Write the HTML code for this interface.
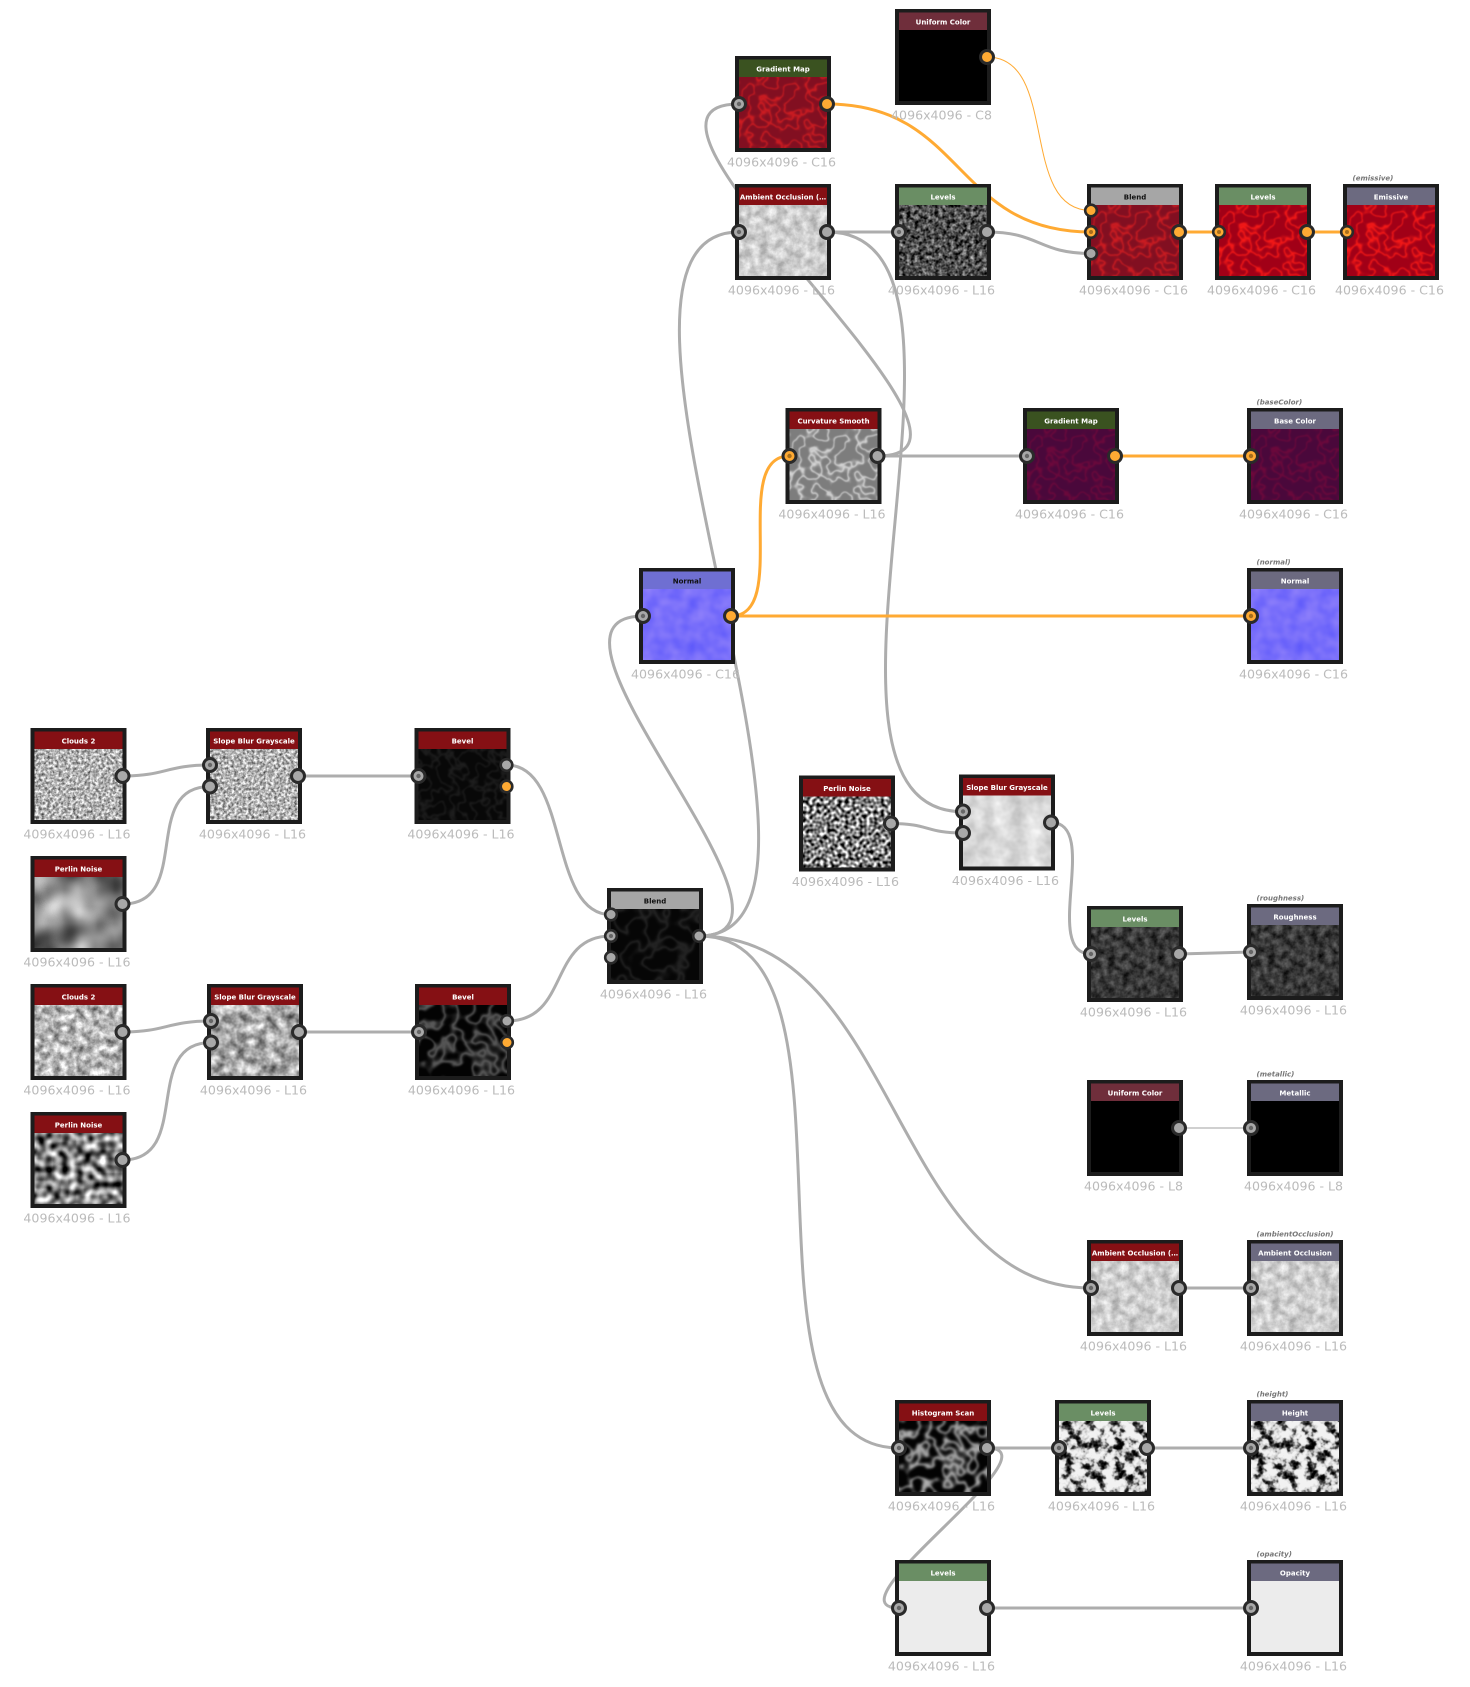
<!DOCTYPE html>
<html><head><meta charset="utf-8"><title>Node graph</title>
<style>
html,body{margin:0;padding:0;background:#fff}
svg{display:block;color-interpolation-filters:sRGB}
filter,feTurbulence,feColorMatrix,feComponentTransfer,feGaussianBlur{color-interpolation-filters:sRGB}
.w{fill:none;stroke:#adadad;stroke-width:3}
.y{fill:none;stroke:#ffaa33;stroke-width:3}
.b{fill:#1c1c1c}
.t{font:bold 7px "DejaVu Sans",sans-serif;fill:#fff;text-anchor:middle}
.k{fill:#111}
.l{font:12.6px "DejaVu Sans",sans-serif;fill:#bbb;text-anchor:middle}
.o{font:italic bold 7px "DejaVu Sans",sans-serif;fill:#777}
</style></head><body>
<svg xmlns="http://www.w3.org/2000/svg" width="1470" height="1687" viewBox="0 0 1470 1687">
<defs>
<g id="g"><circle r="6.5" fill="#a8a8a8" stroke="#2a2a2a" stroke-width="3"/></g>
<g id="gi"><circle r="6.5" fill="#a8a8a8" stroke="#2a2a2a" stroke-width="3"/><circle r="2.2" fill="#666"/></g>
<g id="gs"><circle r="5.8" fill="#a8a8a8" stroke="#2a2a2a" stroke-width="2.600"/></g>
<g id="gsi"><circle r="5.8" fill="#a8a8a8" stroke="#2a2a2a" stroke-width="2.600"/><circle r="2" fill="#666"/></g>
<g id="y"><circle r="6.5" fill="#ffaa33" stroke="#2a2a2a" stroke-width="3"/></g>
<g id="yi"><circle r="6.5" fill="#ffaa33" stroke="#2a2a2a" stroke-width="3"/><circle r="2.2" fill="#a86f1c"/></g>
<g id="ys"><circle r="5.8" fill="#ffaa33" stroke="#2a2a2a" stroke-width="2.600"/></g>
<g id="ysi"><circle r="5.8" fill="#ffaa33" stroke="#2a2a2a" stroke-width="2.600"/><circle r="2" fill="#a86f1c"/></g>

<filter id="n1" x="0" y="0" width="100%" height="100%"><feTurbulence type="fractalNoise" baseFrequency=".35" numOctaves="3" seed="2"/><feColorMatrix values="1.2 0 0 0 .1 1.2 0 0 0 .1 1.2 0 0 0 .1 0 0 0 0 1"/></filter>
<filter id="n2" x="0" y="0" width="100%" height="100%"><feTurbulence type="fractalNoise" baseFrequency=".03" numOctaves="2" seed="11"/><feColorMatrix values="1.1 0 0 0 -.05 1.1 0 0 0 -.05 1.1 0 0 0 -.05 0 0 0 0 1"/></filter>
<filter id="n3" x="0" y="0" width="100%" height="100%"><feTurbulence type="fractalNoise" baseFrequency=".13" numOctaves="4" seed="5"/><feColorMatrix values="1 0 0 0 .22 1 0 0 0 .22 1 0 0 0 .22 0 0 0 0 1"/></filter>
<filter id="n4" x="0" y="0" width="100%" height="100%"><feTurbulence type="fractalNoise" baseFrequency=".13" numOctaves="1" seed="8"/><feColorMatrix values="2.1 0 0 0 -.55 2.1 0 0 0 -.55 2.1 0 0 0 -.55 0 0 0 0 1"/></filter>
<filter id="n5" x="0" y="0" width="100%" height="100%"><feTurbulence type="fractalNoise" baseFrequency=".28" numOctaves="1" seed="9"/><feColorMatrix values="2.3 0 0 0 -.65 2.3 0 0 0 -.65 2.3 0 0 0 -.65 0 0 0 0 1"/></filter>
<filter id="n6" x="0" y="0" width="100%" height="100%"><feTurbulence type="fractalNoise" baseFrequency=".1" numOctaves="3" seed="5"/><feColorMatrix values="1 0 0 0 .16 1 0 0 0 .16 1 0 0 0 .16 0 0 0 0 1"/></filter>
<filter id="ao" x="0" y="0" width="100%" height="100%"><feTurbulence type="fractalNoise" baseFrequency=".12" numOctaves="4" seed="4"/><feColorMatrix values=".45 0 0 0 .58 .45 0 0 0 .58 .45 0 0 0 .58 0 0 0 0 1"/></filter>
<filter id="sl" x="0" y="0" width="100%" height="100%"><feTurbulence type="fractalNoise" baseFrequency=".06" numOctaves="3" seed="6"/><feColorMatrix values=".3 0 0 0 .7 .3 0 0 0 .7 .3 0 0 0 .7 0 0 0 0 1"/></filter>
<filter id="dk" x="0" y="0" width="100%" height="100%"><feTurbulence type="fractalNoise" baseFrequency=".25" numOctaves="3" seed="4"/><feColorMatrix values="1.2 0 0 0 -.3 1.2 0 0 0 -.3 1.2 0 0 0 -.3 0 0 0 0 1"/></filter>
<filter id="dr" x="0" y="0" width="100%" height="100%"><feTurbulence type="fractalNoise" baseFrequency=".14" numOctaves="3" seed="4"/><feColorMatrix values=".5 0 0 0 -.03 .5 0 0 0 -.03 .5 0 0 0 -.03 0 0 0 0 1"/></filter>
<filter id="nm" x="0" y="0" width="100%" height="100%"><feTurbulence type="fractalNoise" baseFrequency=".07" numOctaves="2" seed="3"/><feColorMatrix values=".25 0 0 0 .345 .2 0 0 0 .33 0 0 0 0 .98 0 0 0 0 1"/></filter>
<filter id="hb" x="0" y="0" width="100%" height="100%"><feTurbulence type="fractalNoise" baseFrequency=".1" numOctaves="3" seed="7"/><feColorMatrix values="1 0 0 0 0 1 0 0 0 0 1 0 0 0 0 0 0 0 0 1"/><feComponentTransfer><feFuncR type="table" tableValues="0 0 0 0 .3 .85 1 1 1 1 1"/><feFuncG type="table" tableValues="0 0 0 0 .3 .85 1 1 1 1 1"/><feFuncB type="table" tableValues="0 0 0 0 .3 .85 1 1 1 1 1"/></feComponentTransfer><feColorMatrix values=".95 0 0 0 0 .95 0 0 0 0 .95 0 0 0 0 0 0 0 0 1"/></filter>

<filter id="vc" x="0" y="0" width="100%" height="100%"><feTurbulence type="fractalNoise" baseFrequency=".07" numOctaves="2" seed="3"/><feColorMatrix values="1 0 0 0 0 1 0 0 0 0 1 0 0 0 0 0 0 0 0 1"/><feComponentTransfer><feFuncR type="table" tableValues="0 0 0 0 0 0 0 0 0 .2 1 .2 0 0 0 0 0 0 0 0 0"/><feFuncG type="table" tableValues="0 0 0 0 0 0 0 0 0 .2 1 .2 0 0 0 0 0 0 0 0 0"/><feFuncB type="table" tableValues="0 0 0 0 0 0 0 0 0 .2 1 .2 0 0 0 0 0 0 0 0 0"/></feComponentTransfer><feGaussianBlur stdDeviation=".5"/><feColorMatrix values=".3 0 0 0 .51 .05 0 0 0 .06 0 0 0 0 .13 0 0 0 0 1"/></filter>
<filter id="vr" x="0" y="0" width="100%" height="100%"><feTurbulence type="fractalNoise" baseFrequency=".07" numOctaves="2" seed="3"/><feColorMatrix values="1 0 0 0 0 1 0 0 0 0 1 0 0 0 0 0 0 0 0 1"/><feComponentTransfer><feFuncR type="table" tableValues="0 0 0 0 0 0 0 0 0 .2 1 .2 0 0 0 0 0 0 0 0 0"/><feFuncG type="table" tableValues="0 0 0 0 0 0 0 0 0 .2 1 .2 0 0 0 0 0 0 0 0 0"/><feFuncB type="table" tableValues="0 0 0 0 0 0 0 0 0 .2 1 .2 0 0 0 0 0 0 0 0 0"/></feComponentTransfer><feGaussianBlur stdDeviation=".5"/><feColorMatrix values=".34 0 0 0 .63 .1 0 0 0 0 0 0 0 0 .09 0 0 0 0 1"/></filter>
<filter id="vp" x="0" y="0" width="100%" height="100%"><feTurbulence type="fractalNoise" baseFrequency=".07" numOctaves="2" seed="3"/><feColorMatrix values="1 0 0 0 0 1 0 0 0 0 1 0 0 0 0 0 0 0 0 1"/><feComponentTransfer><feFuncR type="table" tableValues="0 0 0 0 0 0 0 0 0 .2 1 .2 0 0 0 0 0 0 0 0 0"/><feFuncG type="table" tableValues="0 0 0 0 0 0 0 0 0 .2 1 .2 0 0 0 0 0 0 0 0 0"/><feFuncB type="table" tableValues="0 0 0 0 0 0 0 0 0 .2 1 .2 0 0 0 0 0 0 0 0 0"/></feComponentTransfer><feGaussianBlur stdDeviation=".5"/><feColorMatrix values=".14 0 0 0 .29 0 0 0 0 .03 0 0 0 0 .23 0 0 0 0 1"/></filter>
<filter id="vg" x="0" y="0" width="100%" height="100%"><feTurbulence type="fractalNoise" baseFrequency=".07" numOctaves="2" seed="3"/><feColorMatrix values="1 0 0 0 0 1 0 0 0 0 1 0 0 0 0 0 0 0 0 1"/><feComponentTransfer><feFuncR type="table" tableValues="0 0 0 0 0 0 0 0 0 .2 1 .2 0 0 0 0 0 0 0 0 0"/><feFuncG type="table" tableValues="0 0 0 0 0 0 0 0 0 .2 1 .2 0 0 0 0 0 0 0 0 0"/><feFuncB type="table" tableValues="0 0 0 0 0 0 0 0 0 .2 1 .2 0 0 0 0 0 0 0 0 0"/></feComponentTransfer><feGaussianBlur stdDeviation=".5"/><feColorMatrix values=".35 0 0 0 .49 .35 0 0 0 .49 .35 0 0 0 .49 0 0 0 0 1"/></filter>
<filter id="b1" x="0" y="0" width="100%" height="100%"><feTurbulence type="fractalNoise" baseFrequency=".08" numOctaves="2" seed="12"/><feColorMatrix values="1 0 0 0 0 1 0 0 0 0 1 0 0 0 0 0 0 0 0 1"/><feComponentTransfer><feFuncR type="table" tableValues="0 0 0 0 0 0 0 0 0 .3 1 .3 0 0 0 0 0 0 0 0 0"/><feFuncG type="table" tableValues="0 0 0 0 0 0 0 0 0 .3 1 .3 0 0 0 0 0 0 0 0 0"/><feFuncB type="table" tableValues="0 0 0 0 0 0 0 0 0 .3 1 .3 0 0 0 0 0 0 0 0 0"/></feComponentTransfer><feGaussianBlur stdDeviation=".8"/><feColorMatrix values=".09 0 0 0 .03 .09 0 0 0 .03 .09 0 0 0 .03 0 0 0 0 1"/></filter>
<filter id="b2" x="0" y="0" width="100%" height="100%"><feTurbulence type="fractalNoise" baseFrequency=".05" numOctaves="2" seed="14"/><feColorMatrix values="1 0 0 0 0 1 0 0 0 0 1 0 0 0 0 0 0 0 0 1"/><feComponentTransfer><feFuncR type="table" tableValues="0 0 0 0 0 0 0 0 0 .3 1 .3 0 0 0 0 0 0 0 0 0"/><feFuncG type="table" tableValues="0 0 0 0 0 0 0 0 0 .3 1 .3 0 0 0 0 0 0 0 0 0"/><feFuncB type="table" tableValues="0 0 0 0 0 0 0 0 0 .3 1 .3 0 0 0 0 0 0 0 0 0"/></feComponentTransfer><feGaussianBlur stdDeviation=".8"/><feColorMatrix values=".35 0 0 0 .01 .35 0 0 0 .01 .35 0 0 0 .01 0 0 0 0 1"/></filter>
<filter id="b3" x="0" y="0" width="100%" height="100%"><feTurbulence type="fractalNoise" baseFrequency=".05" numOctaves="2" seed="16"/><feColorMatrix values="1 0 0 0 0 1 0 0 0 0 1 0 0 0 0 0 0 0 0 1"/><feComponentTransfer><feFuncR type="table" tableValues="0 0 0 0 0 0 0 0 0 .3 1 .3 0 0 0 0 0 0 0 0 0"/><feFuncG type="table" tableValues="0 0 0 0 0 0 0 0 0 .3 1 .3 0 0 0 0 0 0 0 0 0"/><feFuncB type="table" tableValues="0 0 0 0 0 0 0 0 0 .3 1 .3 0 0 0 0 0 0 0 0 0"/></feComponentTransfer><feGaussianBlur stdDeviation=".8"/><feColorMatrix values=".12 0 0 0 .025 .12 0 0 0 .025 .12 0 0 0 .025 0 0 0 0 1"/></filter>
<filter id="b4" x="0" y="0" width="100%" height="100%"><feTurbulence type="fractalNoise" baseFrequency=".06" numOctaves="2" seed="14"/><feColorMatrix values="1 0 0 0 0 1 0 0 0 0 1 0 0 0 0 0 0 0 0 1"/><feComponentTransfer><feFuncR type="table" tableValues="0 0 0 0 0 0 0 0 0 .3 1 .3 0 0 0 0 0 0 0 0 0"/><feFuncG type="table" tableValues="0 0 0 0 0 0 0 0 0 .3 1 .3 0 0 0 0 0 0 0 0 0"/><feFuncB type="table" tableValues="0 0 0 0 0 0 0 0 0 .3 1 .3 0 0 0 0 0 0 0 0 0"/></feComponentTransfer><feGaussianBlur stdDeviation="1"/><feColorMatrix values=".7 0 0 0 .01 .7 0 0 0 .01 .7 0 0 0 .01 0 0 0 0 1"/></filter>
</defs>

<rect width="1470" height="1687" fill="#fff"/>

<!-- connectors -->
<path class="y" style="stroke-width:1" d="M987 57C1060 57 1018 210.500 1091 210.500"/>
<path class="y" d="M827 104C965 104 953 232 1091 232"/>
<path class="w" d="M877.500 456C1032 456 584 104 739 104"/>
<path class="w" d="M827 232L899 232"/>
<path class="w" d="M827 232C1017 232 773 811.700 963 811.700"/>
<path class="w" d="M987 232C1040 232 1038 253.500 1091 253.500"/>
<path class="y" d="M1179 232L1219 232M1307 232L1347 232"/>
<path class="w" d="M699 936C888 936 550 232 739 232"/>
<path class="w" d="M699 936C834 936 508 616 643 616"/>
<path class="w" d="M699 936C899 936 891 1288 1091 1288"/>
<path class="w" d="M699 936C880 936 718 1448 899 1448"/>
<path class="y" d="M731 616C791 616 729.500 456 789.500 456"/>
<path class="y" d="M731 616L1251 616"/>
<path class="w" d="M877.500 456L1027 456"/>
<path class="y" d="M1115 456L1251 456"/>
<path class="w" d="M122.600 776C166 776 166 765 210 765"/>
<path class="w" d="M122.600 904C193 904 140 786.500 210 786.500"/>
<path class="w" d="M298 776L418.500 776"/>
<path class="w" d="M122.600 1032C166 1032 167 1021 211 1021"/>
<path class="w" d="M122.600 1160C193 1160 141 1042.500 211 1042.500"/>
<path class="w" d="M299 1032L419 1032"/>
<path class="w" d="M506.600 765C570 765 548 914.700 611 914.700"/>
<path class="w" d="M507 1021C570 1021 548 936 611 936"/>
<path class="w" d="M890.500 823.500C930 823.500 925 833 963 833"/>
<path class="w" d="M1051 822.500C1101 822.500 1041 954 1091 954"/>
<path class="w" d="M1179 954L1251 952"/>
<path class="w" style="stroke:#d0d0d0;stroke-width:2" d="M1179 1128L1251 1128"/>
<path class="w" d="M1179 1288L1251 1288"/>
<path class="w" d="M987 1448L1251 1448"/>
<path class="w" d="M987 1448C1062 1448 824 1608 899 1608"/>
<path class="w" d="M987 1608L1251 1608"/>

<!-- Uniform Color top -->
<g transform="translate(895,9)"><rect class="b" width="96" height="96"/><rect x="4" y="3.500" width="88" height="17.500" fill="#6f2e3b"/><rect x="4" y="21" width="88" height="71" fill="#000"/><text class="t" x="48" y="15.500">Uniform Color</text><text class="l" x="46.500" y="110.500">4096x4096 - C8</text><use href="#y" x="92" y="48"/></g>
<!-- Gradient Map top -->
<g transform="translate(735,56)"><rect class="b" width="96" height="96"/><rect x="4" y="3.500" width="88" height="17.500" fill="#3a5220"/><rect x="4" y="21" width="88" height="71" filter="url(#vc)"/><text class="t" x="48" y="15.500">Gradient Map</text><text class="l" x="46.500" y="110.500">4096x4096 - C16</text><use href="#gi" x="4" y="48"/><use href="#y" x="92" y="48"/></g>
<!-- AO -->
<g transform="translate(735,184)"><rect class="b" width="96" height="96"/><rect x="4" y="3.500" width="88" height="17.500" fill="#851014"/><rect x="4" y="21" width="88" height="71" filter="url(#ao)"/><text class="t" x="48" y="15.500">Ambient Occlusion (…</text><text class="l" x="46.500" y="110.500">4096x4096 - L16</text><use href="#gi" x="4" y="48"/><use href="#g" x="92" y="48"/></g>
<!-- Levels -->
<g transform="translate(895,184)"><rect class="b" width="96" height="96"/><rect x="4" y="3.500" width="88" height="17.500" fill="#6a8e64"/><rect x="4" y="21" width="88" height="71" filter="url(#dk)"/><text class="t" x="48" y="15.500">Levels</text><text class="l" x="46.500" y="110.500">4096x4096 - L16</text><use href="#gi" x="4" y="48"/><use href="#g" x="92" y="48"/></g>
<!-- Blend C16 -->
<g transform="translate(1087,184)"><rect class="b" width="96" height="96"/><rect x="4" y="3.500" width="88" height="17.500" fill="#a6a6a6"/><rect x="4" y="21" width="88" height="71" filter="url(#vc)"/><text class="t k" x="48" y="15.500">Blend</text><text class="l" x="46.500" y="110.500">4096x4096 - C16</text><use href="#ys" x="4" y="26.500"/><use href="#ysi" x="4" y="48"/><use href="#gs" x="4" y="69.500"/><use href="#y" x="92" y="48"/></g>
<!-- Levels C16 -->
<g transform="translate(1215,184)"><rect class="b" width="96" height="96"/><rect x="4" y="3.500" width="88" height="17.500" fill="#6a8e64"/><rect x="4" y="21" width="88" height="71" filter="url(#vr)"/><text class="t" x="48" y="15.500">Levels</text><text class="l" x="46.500" y="110.500">4096x4096 - C16</text><use href="#ysi" x="4" y="48"/><use href="#y" x="92" y="48"/></g>
<!-- Emissive -->
<g transform="translate(1343,184)"><text class="o" x="9.500" y="-3.500">(emissive)</text><rect class="b" width="96" height="96"/><rect x="4" y="3.500" width="88" height="17.500" fill="#6c6a80"/><rect x="4" y="21" width="88" height="71" filter="url(#vr)"/><text class="t" x="48" y="15.500">Emissive</text><text class="l" x="46.500" y="110.500">4096x4096 - C16</text><use href="#ysi" x="4" y="48"/></g>
<!-- Curvature Smooth -->
<g transform="translate(785.500,408)"><rect class="b" width="96" height="96"/><rect x="4" y="3.500" width="88" height="17.500" fill="#851014"/><rect x="4" y="21" width="88" height="71" filter="url(#vg)"/><text class="t" x="48" y="15.500">Curvature Smooth</text><text class="l" x="46.500" y="110.500">4096x4096 - L16</text><use href="#yi" x="4" y="48"/><use href="#g" x="92" y="48"/></g>
<!-- Gradient Map 2 -->
<g transform="translate(1023,408)"><rect class="b" width="96" height="96"/><rect x="4" y="3.500" width="88" height="17.500" fill="#3a5220"/><rect x="4" y="21" width="88" height="71" filter="url(#vp)"/><text class="t" x="48" y="15.500">Gradient Map</text><text class="l" x="46.500" y="110.500">4096x4096 - C16</text><use href="#gi" x="4" y="48"/><use href="#y" x="92" y="48"/></g>
<!-- Base Color -->
<g transform="translate(1247,408)"><text class="o" x="9.500" y="-3.500">(baseColor)</text><rect class="b" width="96" height="96"/><rect x="4" y="3.500" width="88" height="17.500" fill="#6c6a80"/><rect x="4" y="21" width="88" height="71" filter="url(#vp)"/><text class="t" x="48" y="15.500">Base Color</text><text class="l" x="46.500" y="110.500">4096x4096 - C16</text><use href="#yi" x="4" y="48"/></g>
<!-- Normal src -->
<g transform="translate(639,568)"><rect class="b" width="96" height="96"/><rect x="4" y="3.500" width="88" height="17.500" fill="#6f6fd2"/><rect x="4" y="21" width="88" height="71" filter="url(#nm)"/><text class="t k" x="48" y="15.500">Normal</text><text class="l" x="46.500" y="110.500">4096x4096 - C16</text><use href="#gi" x="4" y="48"/><use href="#y" x="92" y="48"/></g>
<!-- Normal out -->
<g transform="translate(1247,568)"><text class="o" x="9.500" y="-3.500">(normal)</text><rect class="b" width="96" height="96"/><rect x="4" y="3.500" width="88" height="17.500" fill="#6c6a80"/><rect x="4" y="21" width="88" height="71" filter="url(#nm)"/><text class="t" x="48" y="15.500">Normal</text><text class="l" x="46.500" y="110.500">4096x4096 - C16</text><use href="#yi" x="4" y="48"/></g>

<!-- Left column -->
<g transform="translate(30.500,728)"><rect class="b" width="96" height="96"/><rect x="4" y="3.500" width="88" height="17.500" fill="#851014"/><rect x="4" y="21" width="88" height="71" filter="url(#n1)"/><text class="t" x="48" y="15.500">Clouds 2</text><text class="l" x="46.500" y="110.500">4096x4096 - L16</text><use href="#g" x="92" y="48"/></g>
<g transform="translate(206,728)"><rect class="b" width="96" height="96"/><rect x="4" y="3.500" width="88" height="17.500" fill="#851014"/><rect x="4" y="21" width="88" height="71" filter="url(#n1)"/><text class="t" x="48" y="15.500">Slope Blur Grayscale</text><text class="l" x="46.500" y="110.500">4096x4096 - L16</text><use href="#gi" x="4" y="37"/><use href="#g" x="4" y="58.500"/><use href="#g" x="92" y="48"/></g>
<g transform="translate(414.500,728)"><rect class="b" width="96" height="96"/><rect x="4" y="3.500" width="88" height="17.500" fill="#851014"/><rect x="4" y="21" width="88" height="71" filter="url(#b1)"/><text class="t" x="48" y="15.500">Bevel</text><text class="l" x="46.500" y="110.500">4096x4096 - L16</text><use href="#gi" x="4" y="48"/><use href="#gs" x="92" y="37"/><use href="#ys" x="92" y="58.500"/></g>
<g transform="translate(30.500,856)"><rect class="b" width="96" height="96"/><rect x="4" y="3.500" width="88" height="17.500" fill="#851014"/><rect x="4" y="21" width="88" height="71" filter="url(#n2)"/><text class="t" x="48" y="15.500">Perlin Noise</text><text class="l" x="46.500" y="110.500">4096x4096 - L16</text><use href="#g" x="92" y="48"/></g>
<g transform="translate(30.500,984)"><rect class="b" width="96" height="96"/><rect x="4" y="3.500" width="88" height="17.500" fill="#851014"/><rect x="4" y="21" width="88" height="71" filter="url(#n3)"/><text class="t" x="48" y="15.500">Clouds 2</text><text class="l" x="46.500" y="110.500">4096x4096 - L16</text><use href="#g" x="92" y="48"/></g>
<g transform="translate(207,984)"><rect class="b" width="96" height="96"/><rect x="4" y="3.500" width="88" height="17.500" fill="#851014"/><rect x="4" y="21" width="88" height="71" filter="url(#n6)"/><text class="t" x="48" y="15.500">Slope Blur Grayscale</text><text class="l" x="46.500" y="110.500">4096x4096 - L16</text><use href="#gi" x="4" y="37"/><use href="#g" x="4" y="58.500"/><use href="#g" x="92" y="48"/></g>
<g transform="translate(415,984)"><rect class="b" width="96" height="96"/><rect x="4" y="3.500" width="88" height="17.500" fill="#851014"/><rect x="4" y="21" width="88" height="71" filter="url(#b2)"/><text class="t" x="48" y="15.500">Bevel</text><text class="l" x="46.500" y="110.500">4096x4096 - L16</text><use href="#gi" x="4" y="48"/><use href="#gs" x="92" y="37"/><use href="#ys" x="92" y="58.500"/></g>
<g transform="translate(30.500,1112)"><rect class="b" width="96" height="96"/><rect x="4" y="3.500" width="88" height="17.500" fill="#851014"/><rect x="4" y="21" width="88" height="71" filter="url(#n4)"/><text class="t" x="48" y="15.500">Perlin Noise</text><text class="l" x="46.500" y="110.500">4096x4096 - L16</text><use href="#g" x="92" y="48"/></g>

<!-- Blend main -->
<g transform="translate(607,888)"><rect class="b" width="96" height="96"/><rect x="4" y="3.500" width="88" height="17.500" fill="#a6a6a6"/><rect x="4" y="21" width="88" height="71" filter="url(#b3)"/><text class="t k" x="48" y="15.500">Blend</text><text class="l" x="46.500" y="110.500">4096x4096 - L16</text><use href="#gs" x="4" y="26.500"/><use href="#gsi" x="4" y="48"/><use href="#gs" x="4" y="69.500"/><use href="#gs" x="92" y="48"/></g>

<!-- Roughness chain -->
<g transform="translate(799,775.500)"><rect class="b" width="96" height="96"/><rect x="4" y="3.500" width="88" height="17.500" fill="#851014"/><rect x="4" y="21" width="88" height="71" filter="url(#n5)"/><text class="t" x="48" y="15.500">Perlin Noise</text><text class="l" x="46.500" y="110.500">4096x4096 - L16</text><use href="#g" x="92" y="48"/></g>
<g transform="translate(959,774.500)"><rect class="b" width="96" height="96"/><rect x="4" y="3.500" width="88" height="17.500" fill="#851014"/><rect x="4" y="21" width="88" height="71" filter="url(#sl)"/><text class="t" x="48" y="15.500">Slope Blur Grayscale</text><text class="l" x="46.500" y="110.500">4096x4096 - L16</text><use href="#gi" x="4" y="37"/><use href="#g" x="4" y="58.500"/><use href="#g" x="92" y="48"/></g>
<g transform="translate(1087,906)"><rect class="b" width="96" height="96"/><rect x="4" y="3.500" width="88" height="17.500" fill="#6a8e64"/><rect x="4" y="21" width="88" height="71" filter="url(#dr)"/><text class="t" x="48" y="15.500">Levels</text><text class="l" x="46.500" y="110.500">4096x4096 - L16</text><use href="#gi" x="4" y="48"/><use href="#g" x="92" y="48"/></g>
<g transform="translate(1247,904)"><text class="o" x="9.500" y="-3.500">(roughness)</text><rect class="b" width="96" height="96"/><rect x="4" y="3.500" width="88" height="17.500" fill="#6c6a80"/><rect x="4" y="21" width="88" height="71" filter="url(#dr)"/><text class="t" x="48" y="15.500">Roughness</text><text class="l" x="46.500" y="110.500">4096x4096 - L16</text><use href="#gi" x="4" y="48"/></g>

<!-- Metallic -->
<g transform="translate(1087,1080)"><rect class="b" width="96" height="96"/><rect x="4" y="3.500" width="88" height="17.500" fill="#6f2e3b"/><rect x="4" y="21" width="88" height="71" fill="#000"/><text class="t" x="48" y="15.500">Uniform Color</text><text class="l" x="46.500" y="110.500">4096x4096 - L8</text><use href="#g" x="92" y="48"/></g>
<g transform="translate(1247,1080)"><text class="o" x="9.500" y="-3.500">(metallic)</text><rect class="b" width="96" height="96"/><rect x="4" y="3.500" width="88" height="17.500" fill="#6c6a80"/><rect x="4" y="21" width="88" height="71" fill="#000"/><text class="t" x="48" y="15.500">Metallic</text><text class="l" x="46.500" y="110.500">4096x4096 - L8</text><use href="#gi" x="4" y="48"/></g>

<!-- AO out -->
<g transform="translate(1087,1240)"><rect class="b" width="96" height="96"/><rect x="4" y="3.500" width="88" height="17.500" fill="#851014"/><rect x="4" y="21" width="88" height="71" filter="url(#ao)"/><text class="t" x="48" y="15.500">Ambient Occlusion (…</text><text class="l" x="46.500" y="110.500">4096x4096 - L16</text><use href="#gi" x="4" y="48"/><use href="#g" x="92" y="48"/></g>
<g transform="translate(1247,1240)"><text class="o" x="9.500" y="-3.500">(ambientOcclusion)</text><rect class="b" width="96" height="96"/><rect x="4" y="3.500" width="88" height="17.500" fill="#6c6a80"/><rect x="4" y="21" width="88" height="71" filter="url(#ao)"/><text class="t" x="48" y="15.500">Ambient Occlusion</text><text class="l" x="46.500" y="110.500">4096x4096 - L16</text><use href="#gi" x="4" y="48"/></g>

<!-- Height -->
<g transform="translate(895,1400)"><rect class="b" width="96" height="96"/><rect x="4" y="3.500" width="88" height="17.500" fill="#851014"/><rect x="4" y="21" width="88" height="71" filter="url(#b4)"/><text class="t" x="48" y="15.500">Histogram Scan</text><text class="l" x="46.500" y="110.500">4096x4096 - L16</text><use href="#gi" x="4" y="48"/><use href="#g" x="92" y="48"/></g>
<g transform="translate(1055,1400)"><rect class="b" width="96" height="96"/><rect x="4" y="3.500" width="88" height="17.500" fill="#6a8e64"/><rect x="4" y="21" width="88" height="71" filter="url(#hb)"/><text class="t" x="48" y="15.500">Levels</text><text class="l" x="46.500" y="110.500">4096x4096 - L16</text><use href="#gi" x="4" y="48"/><use href="#g" x="92" y="48"/></g>
<g transform="translate(1247,1400)"><text class="o" x="9.500" y="-3.500">(height)</text><rect class="b" width="96" height="96"/><rect x="4" y="3.500" width="88" height="17.500" fill="#6c6a80"/><rect x="4" y="21" width="88" height="71" filter="url(#hb)"/><text class="t" x="48" y="15.500">Height</text><text class="l" x="46.500" y="110.500">4096x4096 - L16</text><use href="#gi" x="4" y="48"/></g>

<!-- Opacity -->
<g transform="translate(895,1560)"><rect class="b" width="96" height="96"/><rect x="4" y="3.500" width="88" height="17.500" fill="#6a8e64"/><rect x="4" y="21" width="88" height="71" fill="#ececec"/><text class="t" x="48" y="15.500">Levels</text><text class="l" x="46.500" y="110.500">4096x4096 - L16</text><use href="#gi" x="4" y="48"/><use href="#g" x="92" y="48"/></g>
<g transform="translate(1247,1560)"><text class="o" x="9.500" y="-3.500">(opacity)</text><rect class="b" width="96" height="96"/><rect x="4" y="3.500" width="88" height="17.500" fill="#6c6a80"/><rect x="4" y="21" width="88" height="71" fill="#ececec"/><text class="t" x="48" y="15.500">Opacity</text><text class="l" x="46.500" y="110.500">4096x4096 - L16</text><use href="#gi" x="4" y="48"/></g>
</svg>
</body></html>
